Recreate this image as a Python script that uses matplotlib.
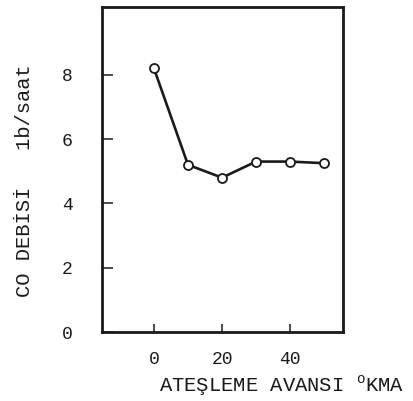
import matplotlib

matplotlib.use("Agg")
import matplotlib.pyplot as plt

plt.rcParams.update({
    "font.family": ["Liberation Mono", "DejaVu Sans Mono"],
    "mathtext.fontset": "custom",
    "mathtext.rm": "Liberation Mono",
})

# ignition advance (deg crank angle) vs CO flow (lb/h)
avans = [0, 10, 20, 30, 40, 50]
co_debisi = [8.2, 5.2, 4.8, 5.3, 5.3, 5.25]
x_ticks = [0, 20, 40]
y_ticks = [0, 2, 4, 6, 8]

ink = "#1a1a1a"

fig = plt.figure(figsize=(4.14, 4.01), dpi=100)
ax = fig.add_axes([0.246, 0.172, 0.583, 0.81])

ax.plot(avans, co_debisi, color=ink, lw=1.9, marker="o", ms=6.5,
        mfc="white", mec=ink, mew=1.3, zorder=3)

ax.set_xlim(-15.3, 55.6)
ax.set_ylim(0, 10.1)
ax.set_xticks(x_ticks)
ax.set_yticks(y_ticks)
ax.tick_params(axis="y", direction="in", length=8, width=1.1, pad=21,
               labelsize=13, colors=ink)
ax.tick_params(axis="x", direction="in", length=6, width=1.1, pad=14,
               labelsize=13, colors=ink)
for s in ax.spines.values():
    s.set_linewidth(2.0)
    s.set_color(ink)

fig.text(0.06, 0.55, "CO DEBİSİ   1b/saat", rotation=90, ha="center",
         va="center", fontsize=14.8, color=ink)
fig.text(0.385, 0.022, r"ATEŞLEME AVANSI $^{\mathrm{o}}$KMA", ha="left",
         va="baseline", fontsize=14.8, color=ink)

fig.savefig("out.png", dpi=100, facecolor="white")
